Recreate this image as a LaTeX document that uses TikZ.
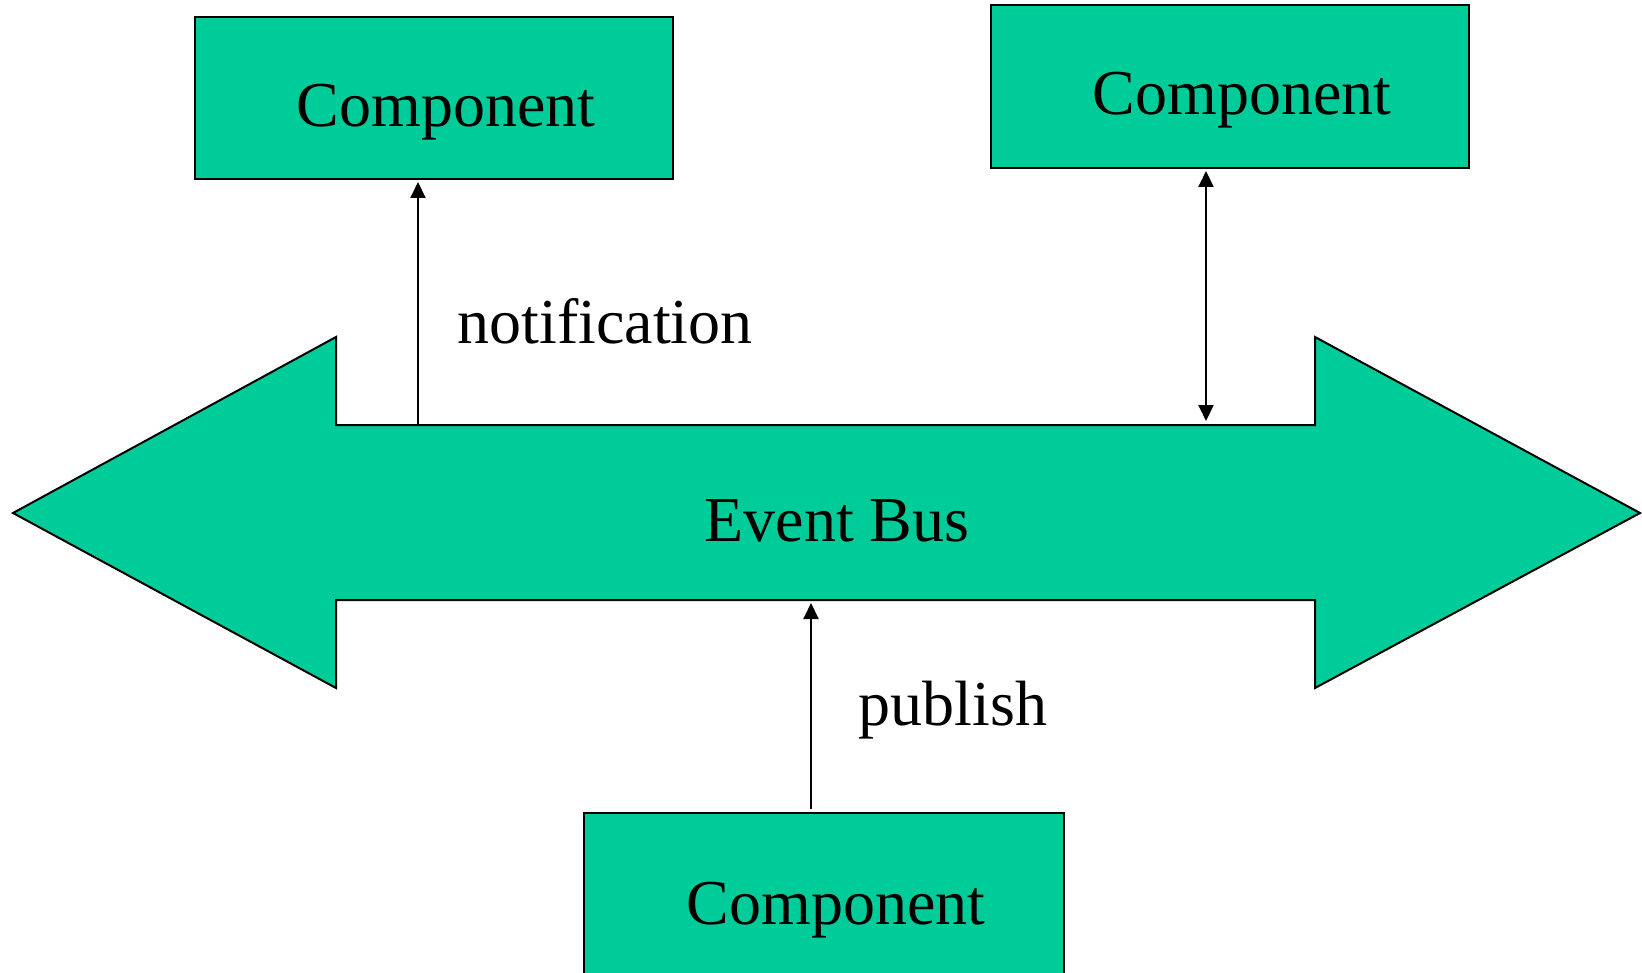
\documentclass[tikz,border=0pt]{standalone}
\usepackage{fontspec}
\setmainfont{Liberation Serif}
\usepackage{xcolor}
\usepackage{tikz}
\usetikzlibrary{arrows.meta, positioning, calc}

\definecolor{busgreen}{RGB}{0,204,153}

\begin{document}
\begin{tikzpicture}[
    x=0.5pt, y=-0.5pt,
    comp/.style={rectangle, draw=black, fill=busgreen, line width=1pt, inner sep=0pt, outer sep=0pt, minimum width=239pt, minimum height=81pt},
    comptext/.style={anchor=base, font=\fontsize{32}{38}\selectfont, xshift=6pt, yshift=-7pt},
    tag/.style={anchor=base, font=\fontsize{32}{38}\selectfont},
    link/.style={draw=black, line width=1pt, -{Triangle[length=8pt, width=7.5pt]}}
]
\clip (0,0) rectangle (1642,973);

% Bus
\filldraw[fill=busgreen, draw=black, line width=1pt]
    (13,513) -- (336,337) -- (336,425) -- (1315,425) -- (1315,337) -- (1640,513)
    -- (1315,688) -- (1315,600) -- (336,600) -- (336,688) -- cycle;
\node[tag] (bus) at (837,541) {Event Bus};

% Nodes
\node[comp, label={[comptext]center:Component}] (left) at (434,98) {};
\node[comp, minimum height=81.5pt, label={[comptext]center:Component}] (right) at (1230,86.5) {};
\node[comp, minimum width=240pt, minimum height=93.5pt, label={[comptext, yshift=5pt]center:Component}] (pub) at (824,906.5) {};

\coordinate (nfoot) at (418,425);
\coordinate (rfoot) at (1206,424);
\coordinate (pfoot) at (811,600);

% Arrows
\draw[link, shorten >=1.5pt] (nfoot) -- (nfoot |- left.south);
\draw[link, {Triangle[length=8pt, width=7.5pt]}-{Triangle[length=8pt, width=7.5pt]}, shorten >=1.5pt, shorten <=1.5pt] (rfoot) -- (rfoot |- right.south);
\draw[link, shorten >=1.5pt, shorten <=2pt] (pfoot |- pub.north) -- (pfoot);

% Labels
\node[tag] (notify) at (605,343) {notification};
\node[tag] (publish) at (953,725) {publish};

\end{tikzpicture}
\end{document}
